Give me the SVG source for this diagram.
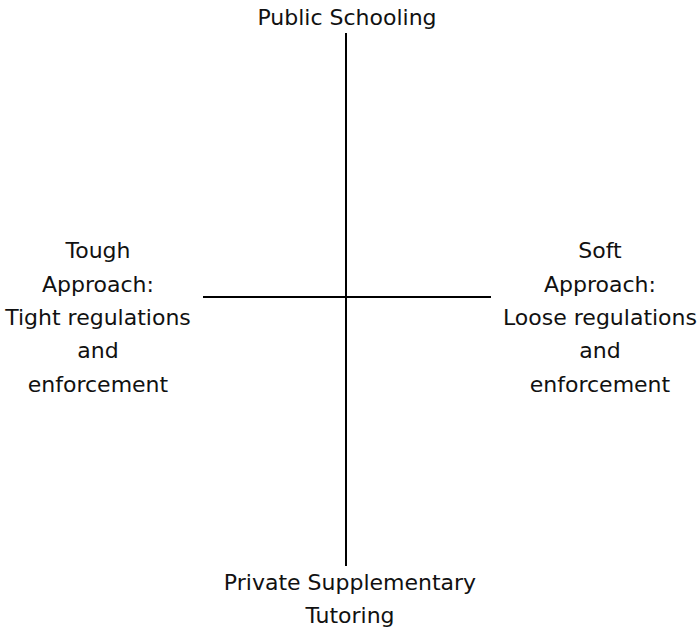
<svg xmlns="http://www.w3.org/2000/svg" width="699" height="633" viewBox="0 0 699 633">
<style>
text{font-family:"DejaVu Sans","Open Sans",sans-serif;font-size:22px;fill:#111;text-anchor:middle}
.ax{stroke:#000;stroke-width:2;fill:none}
</style>
<rect width="699" height="633" fill="#fff"/>
<g id="connectors">
<line class="ax" x1="346" y1="33" x2="346" y2="566"/>
<line class="ax" x1="203" y1="297" x2="491" y2="297"/>
</g>
<g id="top"><text x="347" y="25">Public Schooling</text></g>
<g id="left"><text x="98" y="258">Tough</text><text x="98" y="292">Approach:</text><text x="98" y="325">Tight regulations</text><text x="98" y="358">and</text><text x="98" y="392">enforcement</text></g>
<g id="right"><text x="600" y="258">Soft</text><text x="600" y="292">Approach:</text><text x="600" y="325">Loose regulations</text><text x="600" y="358">and</text><text x="600" y="392">enforcement</text></g>
<g id="bottom"><text x="350" y="590">Private Supplementary</text><text x="350" y="623">Tutoring</text></g>
</svg>
